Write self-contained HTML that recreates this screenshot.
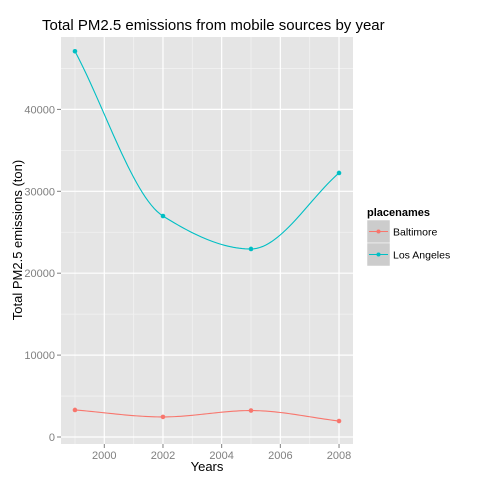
<!DOCTYPE html>
<html><head><meta charset="utf-8"><style>body{margin:0;background:#fff}svg text{font-family:"Liberation Sans",Arial,sans-serif}</style></head>
<body>
<svg id="c" width="480" height="480" xmlns="http://www.w3.org/2000/svg"></svg>
<script>
const years=[1999,2002,2005,2008];
const baltimore=[3300,2450,3230,1950];
const losAngeles=[47100,26980,22960,32240];
const xTicks=[2000,2002,2004,2006,2008];
const yTicks=[0,10000,20000,30000,40000];
const xTickLabels=["2000","2002","2004","2006","2008"];
const yTickLabels=["0","10000","20000","30000","40000"];
const NS="http://www.w3.org/2000/svg";
const svg=document.getElementById('c');
const L=61,R=353,T=37,B=444;
const x=v=>104.3+(v-2000)*29.34;
const y=v=>437-v*0.00819;
function el(t,a,p){const e=document.createElementNS(NS,t);for(const k in a)e.setAttribute(k,a[k]);(p||svg).appendChild(e);return e;}
const panel=el('rect',{x:L,y:T,width:R-L,height:B-T,fill:'#E5E5E5'});


for(const t of xTicks){const m=t+1;if(x(m)<R){const g=el('line',{x1:x(m),x2:x(m),y1:T,y2:B,stroke:'#F2F2F2','stroke-width':0.8});}
 const m2=t-1;if(m2<2000&&x(m2)>L){const g=el('line',{x1:x(m2),x2:x(m2),y1:T,y2:B,stroke:'#F2F2F2','stroke-width':0.8});}}
for(const t of yTicks){const m=t+5000;if(y(m)>T){const g=el('line',{x1:L,x2:R,y1:y(m),y2:y(m),stroke:'#F2F2F2','stroke-width':0.8});}}
xTicks.forEach((t,i)=>{const g=el('line',{x1:x(t),x2:x(t),y1:T,y2:B,stroke:'#fff','stroke-width':1.2});
 const k=el('line',{x1:x(t),x2:x(t),y1:B,y2:B+4,stroke:'#7F7F7F'});
 const s=el('text',{x:x(t),y:B+15,'font-size':11,fill:'#7F7F7F','text-anchor':'middle'});s.textContent=xTickLabels[i];});
yTicks.forEach((t,i)=>{const g=el('line',{x1:L,x2:R,y1:y(t),y2:y(t),stroke:'#fff','stroke-width':1.2});
 const k=el('line',{x1:L-4,x2:L,y1:y(t),y2:y(t),stroke:'#7F7F7F'});
 const s=el('text',{x:L-6,y:y(t)+4,'font-size':11,fill:'#7F7F7F','text-anchor':'end'});s.textContent=yTickLabels[i];});
function mono(xs,ys){const n=xs.length,d=[],m=[];for(let i=0;i<n-1;i++)d.push((ys[i+1]-ys[i])/(xs[i+1]-xs[i]));
 m[0]=d[0];m[n-1]=d[n-2];for(let i=1;i<n-1;i++)m[i]=(d[i-1]*d[i]<=0)?0:(2/(1/d[i-1]+1/d[i]));
 return t=>{let j=0;while(j<n-2&&t>xs[j+1])j++;const h=xs[j+1]-xs[j],s=(t-xs[j])/h,s2=s*s,s3=s2*s;
  return (2*s3-3*s2+1)*ys[j]+(s3-2*s2+s)*h*m[j]+(-2*s3+3*s2)*ys[j+1]+(s3-s2)*h*m[j+1];};}
function series(vals,color,name){const f=mono(years,vals);let p='';for(let i=0;i<=90;i++){const t=years[0]+(years[years.length-1]-years[0])*i/90;p+=(i?'L':'M')+x(t).toFixed(2)+','+y(f(t)).toFixed(2);}
 const pa=el('path',{d:p,fill:'none',stroke:color,'stroke-width':1.1});
 years.forEach((yr,i)=>{const c=el('circle',{cx:x(yr),cy:y(vals[i]),r:2.3,fill:color});});}
series(baltimore,'#F8766D','baltimore');
series(losAngeles,'#00BFC4','los-angeles');
function txt(s,a,name){const t=el('text',a);t.textContent=s;return t;}
txt('Total PM2.5 emissions from mobile sources by year',{x:42,y:30,'font-size':15,fill:'#000'},'chart-title');
txt('Years',{x:207,y:471,'font-size':13,fill:'#000','text-anchor':'middle'},'x-axis-title');
txt('Total PM2.5 emissions (ton)',{x:0,y:0,'font-size':13,fill:'#000','text-anchor':'middle',transform:'translate(22,240) rotate(-90)'},'y-axis-title');
txt('placenames',{x:367,y:216,'font-size':11,'font-weight':'bold',fill:'#000'},'legend-title');
[['Baltimore','#F8766D'],['Los Angeles','#00BFC4']].forEach((e,i)=>{const yy=220+i*23;
 const r=el('rect',{x:367,y:yy,width:23,height:23,fill:'#CCCCCC',stroke:'#fff','stroke-width':0.5});
 const ln=el('line',{x1:369,x2:388,y1:yy+11.5,y2:yy+11.5,stroke:e[1],'stroke-width':1.1});
 const c=el('circle',{cx:378.5,cy:yy+11.5,r:2,fill:e[1]});
 txt(e[0],{x:393,y:yy+15.5,'font-size':10.5,fill:'#000'},'legend-label');});
</script>
</body></html>
